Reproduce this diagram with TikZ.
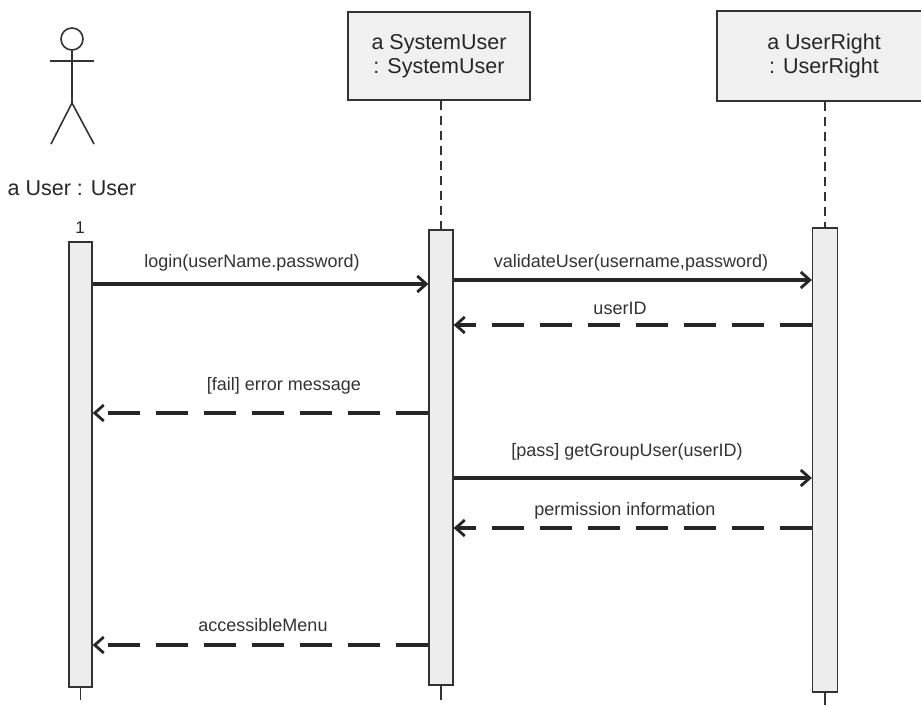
\documentclass[tikz,border=0pt]{standalone}
\usepackage{fontspec}
\setmainfont{Liberation Sans}
\usetikzlibrary{arrows.meta,calc}
\begin{document}
\begin{tikzpicture}[x=1pt,y=-1pt,
  bar/.style={draw=black!80, line width=1.3pt, fill=black!7, inner sep=0pt},
  objbox/.style={draw=black!80, line width=1.4pt, fill=black!6, inner sep=0pt, align=center,
     font=\fontsize{21.5}{24}\selectfont, text=black!85},
  msg/.style={line width=3.2pt, draw=black!85, -{Straight Barb[length=9pt,width=16pt,line width=2.8pt]}},
  ret/.style={msg, dash pattern=on 32pt off 16pt, line width=3.2pt},
  lifeline/.style={line width=1.5pt, draw=black!80, dash pattern=on 9pt off 6pt},
  lbl/.style={font=\fontsize{18}{20}\selectfont, text=black!80, inner sep=0pt},
  stick/.style={line width=1.6pt, draw=black!80}]
\useasboundingbox (0,0) rectangle (921,705);
\fill[white] (0,0) rectangle (921,705);
\clip (0,0) rectangle (921,705);

% actor
\coordinate (actor) at (72,39);
\draw[stick] (actor) circle[radius=11pt];
\draw[stick] ($(actor)+(0,11)$) -- ($(actor)+(0,64)$);
\draw[stick] ($(actor)+(-22,22)$) -- ($(actor)+(22,22)$);
\draw[stick] ($(actor)+(-21,105)$) -- ($(actor)+(0,64)$) -- ($(actor)+(22,105)$);
\node[font=\fontsize{21.5}{25}\selectfont, text=black!85, inner sep=0pt] (ulabel) at (72,188) {a User : User};

% object boxes
\node[objbox, minimum width=182pt, minimum height=88pt] (sys) at (439,56) {a SystemUser\\: SystemUser};
\node[objbox, minimum width=214pt, minimum height=90pt] (ur) at (824,56) {a UserRight\\: UserRight};

% activation bars
\node[bar, minimum width=23pt, minimum height=445pt] (b1) at (80.5,464.5) {};
\node[bar, minimum width=24pt, minimum height=455pt] (b2) at (441,457.5) {};
\node[bar, minimum width=25pt, minimum height=464pt] (b3) at (825,460) {};
\node[font=\fontsize{17}{17}\selectfont, text=black!85, inner sep=0pt] (one) at (80,228) {1};

% lifelines
\draw[lifeline] (b2.north |- sys.south) -- (b2.north);
\draw[lifeline] (b3.north |- ur.south) -- (b3.north);
\coordinate (e1) at (80.5,700);
\coordinate (e2) at (441,700);
\coordinate (e3) at (825,705);
\draw[stick] (b1.south) -- (e1);
\draw[stick] (b2.south) -- (e2);
\draw[stick] (b3.south) -- (e3);

% messages
\draw[msg] (b1.east |- 0,284) -- (b2.west |- 0,284);
\node[lbl] (m1) at (252,263) {login(userName.password)};
\draw[msg] (b2.east |- 0,280) -- (b3.west |- 0,280);
\node[lbl] (m2) at (631,263) {validateUser(username,password)};
\draw[ret] (b3.west |- 0,325) -- (b2.east |- 0,325);
\node[lbl] (m3) at (620,308) {userID};
\draw[ret] (b2.west |- 0,413) -- (b1.east |- 0,413);
\node[lbl] (m4) at (284,386) {[fail] error message};
\draw[msg] (b2.east |- 0,478) -- (b3.west |- 0,478);
\node[lbl] (m5) at (627,452) {[pass] getGroupUser(userID)};
\draw[ret] (b3.west |- 0,528) -- (b2.east |- 0,528);
\node[lbl] (m6) at (625,511) {permission information};
\draw[ret] (b2.west |- 0,645) -- (b1.east |- 0,645);
\node[lbl] (m7) at (263,625) {accessibleMenu};
\end{tikzpicture}
\end{document}
